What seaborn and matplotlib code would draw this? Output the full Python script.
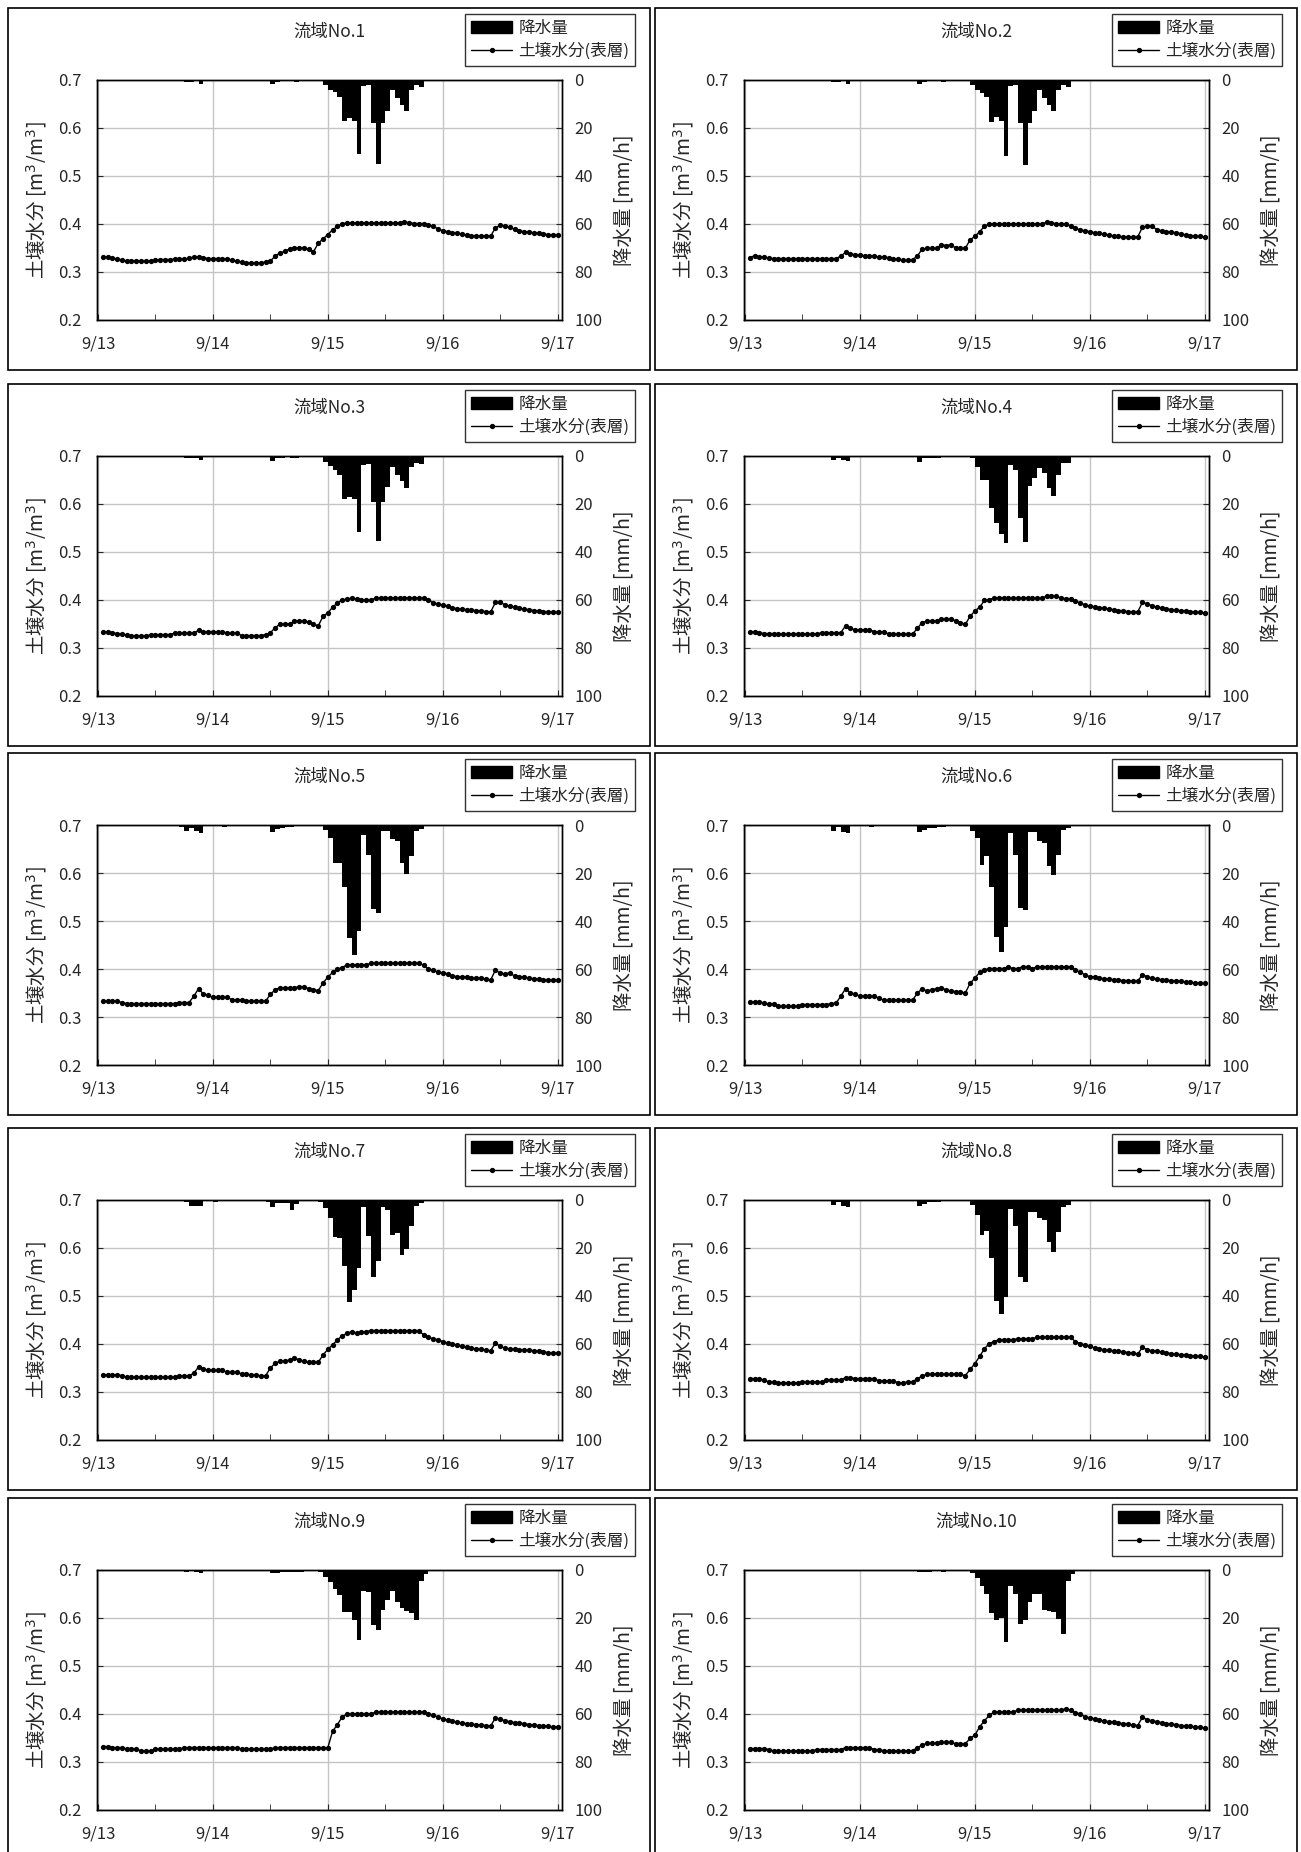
import numpy as np
import matplotlib
matplotlib.use('Agg')
import matplotlib.pyplot as plt
from matplotlib.patches import Rectangle, Patch
from matplotlib.lines import Line2D
import seaborn as sns

sns.set_style('white')
plt.rcParams['font.family'] = ['Noto Sans CJK JP', 'DejaVu Sans']
plt.rcParams['mathtext.fontset'] = 'dejavusans'

# ---- data (hourly, 9/13 01:00 .. 9/17 00:00) ----
titles = ['流域No.1', '流域No.2', '流域No.3', '流域No.4', '流域No.5',
          '流域No.6', '流域No.7', '流域No.8', '流域No.9', '流域No.10']
day_labels = ['9/13', '9/14', '9/15', '9/16', '9/17']
soil_hours = np.arange(1, 97)      # soil moisture sample times [h]
rain_hours = np.arange(0, 96)      # start of each hourly rain interval [h]

soil_1 = [0.331, 0.331, 0.329, 0.327, 0.324, 0.323, 0.323, 0.323, 0.323, 0.323, 0.323, 0.324, 0.326, 0.326, 0.326, 0.327, 0.327, 0.327, 0.329, 0.331, 0.331, 0.330, 0.328, 0.328,
          0.328, 0.328, 0.327, 0.324, 0.322, 0.321, 0.319, 0.319, 0.319, 0.319, 0.321, 0.323, 0.333, 0.340, 0.343, 0.348, 0.350, 0.350, 0.350, 0.347, 0.342, 0.360, 0.369, 0.378,
          0.388, 0.395, 0.401, 0.402, 0.402, 0.402, 0.402, 0.402, 0.402, 0.402, 0.402, 0.402, 0.402, 0.402, 0.402, 0.404, 0.403, 0.401, 0.401, 0.401, 0.398, 0.395, 0.390, 0.386,
          0.384, 0.382, 0.381, 0.379, 0.377, 0.376, 0.375, 0.375, 0.375, 0.375, 0.392, 0.397, 0.396, 0.393, 0.389, 0.386, 0.384, 0.383, 0.382, 0.381, 0.379, 0.378, 0.377, 0.377]
soil_2 = [0.330, 0.334, 0.332, 0.331, 0.329, 0.328, 0.328, 0.328, 0.328, 0.328, 0.328, 0.328, 0.328, 0.328, 0.328, 0.328, 0.328, 0.328, 0.328, 0.333, 0.341, 0.338, 0.336, 0.335,
          0.334, 0.333, 0.333, 0.331, 0.331, 0.330, 0.327, 0.327, 0.324, 0.324, 0.326, 0.333, 0.348, 0.349, 0.349, 0.349, 0.357, 0.355, 0.357, 0.350, 0.349, 0.349, 0.367, 0.374,
          0.384, 0.395, 0.400, 0.400, 0.400, 0.400, 0.400, 0.400, 0.400, 0.400, 0.400, 0.400, 0.400, 0.400, 0.404, 0.403, 0.400, 0.400, 0.400, 0.396, 0.391, 0.388, 0.386, 0.384,
          0.382, 0.381, 0.379, 0.377, 0.375, 0.374, 0.373, 0.373, 0.373, 0.373, 0.393, 0.396, 0.396, 0.388, 0.386, 0.384, 0.383, 0.382, 0.380, 0.377, 0.376, 0.375, 0.374, 0.373]
soil_3 = [0.334, 0.334, 0.332, 0.330, 0.329, 0.327, 0.325, 0.325, 0.325, 0.325, 0.328, 0.328, 0.328, 0.328, 0.328, 0.331, 0.331, 0.331, 0.331, 0.331, 0.337, 0.334, 0.334, 0.334,
          0.334, 0.334, 0.331, 0.331, 0.331, 0.326, 0.326, 0.326, 0.326, 0.326, 0.328, 0.332, 0.342, 0.350, 0.350, 0.350, 0.356, 0.356, 0.356, 0.354, 0.350, 0.346, 0.366, 0.373,
          0.385, 0.394, 0.400, 0.402, 0.404, 0.402, 0.400, 0.400, 0.400, 0.404, 0.404, 0.404, 0.404, 0.404, 0.404, 0.404, 0.404, 0.404, 0.404, 0.404, 0.401, 0.394, 0.392, 0.389,
          0.387, 0.384, 0.382, 0.381, 0.380, 0.379, 0.378, 0.377, 0.376, 0.375, 0.395, 0.395, 0.390, 0.387, 0.385, 0.383, 0.381, 0.380, 0.378, 0.377, 0.376, 0.375, 0.374, 0.374]
soil_4 = [0.334, 0.334, 0.332, 0.330, 0.330, 0.330, 0.329, 0.329, 0.329, 0.329, 0.329, 0.329, 0.329, 0.329, 0.329, 0.332, 0.332, 0.332, 0.332, 0.332, 0.346, 0.341, 0.338, 0.338,
          0.338, 0.338, 0.334, 0.334, 0.334, 0.329, 0.329, 0.329, 0.329, 0.329, 0.329, 0.341, 0.353, 0.356, 0.356, 0.356, 0.360, 0.360, 0.360, 0.357, 0.353, 0.349, 0.366, 0.377,
          0.385, 0.399, 0.401, 0.404, 0.404, 0.404, 0.404, 0.404, 0.404, 0.404, 0.404, 0.404, 0.404, 0.404, 0.408, 0.408, 0.408, 0.404, 0.403, 0.403, 0.397, 0.394, 0.390, 0.387,
          0.386, 0.384, 0.383, 0.381, 0.380, 0.378, 0.377, 0.376, 0.375, 0.375, 0.395, 0.392, 0.388, 0.385, 0.384, 0.382, 0.380, 0.379, 0.378, 0.377, 0.376, 0.375, 0.374, 0.373]
soil_5 = [0.333, 0.333, 0.333, 0.333, 0.330, 0.328, 0.328, 0.328, 0.328, 0.328, 0.328, 0.328, 0.328, 0.328, 0.328, 0.328, 0.330, 0.330, 0.330, 0.343, 0.359, 0.348, 0.345, 0.341,
          0.341, 0.341, 0.341, 0.336, 0.336, 0.336, 0.333, 0.333, 0.333, 0.333, 0.333, 0.347, 0.357, 0.361, 0.361, 0.361, 0.361, 0.363, 0.363, 0.359, 0.357, 0.355, 0.371, 0.383,
          0.393, 0.400, 0.403, 0.409, 0.409, 0.409, 0.409, 0.409, 0.412, 0.412, 0.412, 0.412, 0.412, 0.412, 0.412, 0.412, 0.412, 0.412, 0.412, 0.408, 0.400, 0.397, 0.394, 0.392,
          0.390, 0.386, 0.384, 0.384, 0.384, 0.381, 0.381, 0.381, 0.379, 0.377, 0.398, 0.391, 0.390, 0.392, 0.385, 0.384, 0.383, 0.381, 0.380, 0.379, 0.377, 0.377, 0.377, 0.377]
soil_6 = [0.331, 0.331, 0.331, 0.329, 0.327, 0.327, 0.322, 0.322, 0.322, 0.322, 0.322, 0.326, 0.326, 0.326, 0.326, 0.326, 0.326, 0.328, 0.329, 0.343, 0.359, 0.350, 0.348, 0.343,
          0.343, 0.343, 0.343, 0.339, 0.335, 0.335, 0.335, 0.335, 0.335, 0.335, 0.335, 0.350, 0.359, 0.354, 0.357, 0.359, 0.360, 0.357, 0.354, 0.353, 0.352, 0.350, 0.370, 0.381,
          0.393, 0.398, 0.401, 0.401, 0.401, 0.401, 0.404, 0.401, 0.401, 0.405, 0.405, 0.401, 0.405, 0.405, 0.405, 0.405, 0.405, 0.405, 0.405, 0.405, 0.398, 0.393, 0.388, 0.384,
          0.384, 0.381, 0.380, 0.379, 0.378, 0.377, 0.376, 0.376, 0.375, 0.375, 0.388, 0.384, 0.381, 0.379, 0.378, 0.377, 0.376, 0.375, 0.374, 0.373, 0.372, 0.371, 0.370, 0.370]
soil_7 = [0.336, 0.336, 0.336, 0.336, 0.334, 0.331, 0.331, 0.331, 0.331, 0.331, 0.331, 0.331, 0.331, 0.331, 0.331, 0.331, 0.334, 0.334, 0.334, 0.339, 0.352, 0.348, 0.345, 0.345,
          0.345, 0.345, 0.341, 0.341, 0.341, 0.338, 0.337, 0.336, 0.336, 0.333, 0.334, 0.350, 0.360, 0.364, 0.364, 0.367, 0.371, 0.367, 0.364, 0.362, 0.362, 0.362, 0.377, 0.389,
          0.398, 0.409, 0.417, 0.422, 0.426, 0.422, 0.425, 0.426, 0.428, 0.428, 0.428, 0.428, 0.428, 0.428, 0.428, 0.428, 0.428, 0.428, 0.428, 0.419, 0.414, 0.411, 0.409, 0.405,
          0.402, 0.400, 0.398, 0.395, 0.393, 0.391, 0.390, 0.389, 0.387, 0.386, 0.402, 0.395, 0.391, 0.390, 0.389, 0.388, 0.388, 0.387, 0.386, 0.386, 0.384, 0.382, 0.381, 0.381]
soil_8 = [0.328, 0.328, 0.328, 0.324, 0.321, 0.321, 0.319, 0.319, 0.319, 0.319, 0.319, 0.321, 0.321, 0.321, 0.321, 0.321, 0.325, 0.325, 0.325, 0.325, 0.330, 0.330, 0.328, 0.328,
          0.328, 0.328, 0.328, 0.323, 0.323, 0.323, 0.323, 0.319, 0.319, 0.321, 0.321, 0.328, 0.333, 0.337, 0.337, 0.337, 0.337, 0.337, 0.337, 0.337, 0.337, 0.334, 0.347, 0.359,
          0.374, 0.390, 0.401, 0.405, 0.409, 0.409, 0.409, 0.409, 0.411, 0.411, 0.411, 0.411, 0.414, 0.414, 0.414, 0.414, 0.414, 0.414, 0.414, 0.414, 0.405, 0.401, 0.398, 0.395,
          0.392, 0.390, 0.388, 0.387, 0.386, 0.385, 0.384, 0.382, 0.381, 0.379, 0.393, 0.388, 0.386, 0.385, 0.383, 0.382, 0.380, 0.379, 0.378, 0.377, 0.376, 0.375, 0.374, 0.373]
soil_9 = [0.332, 0.332, 0.330, 0.330, 0.330, 0.327, 0.327, 0.327, 0.323, 0.323, 0.323, 0.327, 0.327, 0.327, 0.327, 0.327, 0.327, 0.330, 0.330, 0.330, 0.330, 0.330, 0.330, 0.330,
          0.330, 0.330, 0.330, 0.330, 0.330, 0.327, 0.327, 0.327, 0.327, 0.327, 0.327, 0.327, 0.330, 0.330, 0.330, 0.330, 0.330, 0.330, 0.330, 0.330, 0.330, 0.330, 0.330, 0.330,
          0.364, 0.378, 0.394, 0.400, 0.400, 0.400, 0.400, 0.400, 0.400, 0.404, 0.404, 0.404, 0.404, 0.404, 0.404, 0.404, 0.404, 0.404, 0.404, 0.404, 0.401, 0.397, 0.394, 0.390,
          0.387, 0.385, 0.383, 0.381, 0.380, 0.379, 0.378, 0.377, 0.376, 0.375, 0.392, 0.389, 0.386, 0.384, 0.382, 0.381, 0.380, 0.378, 0.377, 0.376, 0.375, 0.374, 0.373, 0.373]
soil_10 = [0.328, 0.328, 0.328, 0.328, 0.326, 0.323, 0.323, 0.323, 0.323, 0.323, 0.323, 0.323, 0.323, 0.323, 0.326, 0.326, 0.326, 0.326, 0.326, 0.326, 0.330, 0.330, 0.330, 0.330,
           0.330, 0.330, 0.326, 0.326, 0.323, 0.323, 0.323, 0.323, 0.323, 0.323, 0.323, 0.330, 0.335, 0.339, 0.339, 0.339, 0.341, 0.341, 0.341, 0.338, 0.338, 0.338, 0.349, 0.356,
           0.373, 0.386, 0.397, 0.404, 0.404, 0.404, 0.404, 0.404, 0.408, 0.408, 0.408, 0.408, 0.408, 0.408, 0.408, 0.408, 0.408, 0.408, 0.411, 0.408, 0.403, 0.400, 0.394, 0.392,
           0.390, 0.387, 0.385, 0.384, 0.383, 0.381, 0.380, 0.379, 0.377, 0.376, 0.393, 0.388, 0.386, 0.384, 0.382, 0.380, 0.379, 0.378, 0.376, 0.375, 0.374, 0.373, 0.372, 0.371]

# hourly rainfall [mm/h], one value per hour 0..95
rain_1 = ([0] * 18 + [0.8, 0.8, 0.5, 1.5, 0, 0]
          + [0] * 12 + [1.5, 1.0, 0.5, 0.5, 0.5, 1.0, 0.3, 0.3, 0, 0, 0, 2]
          + [4, 5, 7, 17, 16, 17, 31, 2.5, 2, 18, 35, 18, 13, 4, 7.5, 10.5, 13, 4, 2, 3, 0, 0, 0, 0]
          + [0] * 24)
rain_2 = ([0] * 18 + [0.8, 0.8, 0.5, 1.5, 0, 0]
          + [0] * 12 + [1.5, 0.8, 0.5, 0.5, 0.3, 0.8, 0.3, 0.3, 0, 0, 0, 2]
          + [4, 5.5, 7, 17.5, 15.5, 17, 31.5, 2.5, 2, 18, 35.5, 18, 13, 4, 7.5, 10.5, 13, 4, 2, 3, 0, 0, 0, 0]
          + [0] * 24)
rain_3 = ([0] * 18 + [1.0, 1.0, 0.7, 1.7, 0, 0]
          + [0] * 12 + [2.0, 0.7, 0.7, 0.5, 0.7, 0.7, 0.3, 0.3, 0, 0, 0, 2.3]
          + [4, 5.8, 7.9, 18, 17, 18, 31.7, 3.7, 3.5, 19.3, 35.4, 19, 13, 4.7, 7.9, 10.6, 13.4, 4.7, 3, 3.3, 0, 0, 0, 0]
          + [0] * 24)
rain_4 = ([0] * 17 + [0.5, 1.5, 1.0, 1.5, 2.0, 0, 0]
          + [0, 0, 0.5] + [0] * 9 + [2.3, 1.0, 1.0, 0.8, 0.8, 0.5, 0.5, 0.5, 0, 0, 0, 1.0]
          + [4.7, 10, 10, 21.6, 27.9, 32.7, 36.4, 3.7, 6, 25.8, 36, 12.7, 9.2, 5, 7, 13.4, 16.8, 7.9, 3, 3, 0, 0, 0, 0]
          + [0] * 24)
rain_5 = ([0] * 17 + [0.8, 2.5, 1.4, 2.5, 3.4, 0, 0]
          + [0, 0, 0.8] + [0] * 9 + [2.8, 1.5, 1.2, 1.0, 0.8, 0.6, 0.5, 0.4, 0, 0, 0, 2.2]
          + [5.5, 16, 16, 26, 47, 54, 44, 4, 12.5, 35, 36.5, 2.5, 2.5, 6, 6.5, 16, 20.5, 13, 2.5, 1.5, 0, 0, 0, 0]
          + [0] * 24)
rain_6 = ([0] * 17 + [0.4, 2.4, 1.0, 3.0, 3.5, 0, 0]
          + [0, 0, 0.7] + [0] * 9 + [3.0, 2.0, 1.4, 1.2, 1.0, 0.8, 0.6, 0.5, 0, 0, 0, 2.4]
          + [5.5, 16.7, 13, 26, 46.5, 52.8, 42.4, 3.5, 12.5, 34.7, 35.4, 2.8, 2.8, 6.5, 7.4, 17, 20.8, 12.5, 2, 1.4, 0, 0, 0, 0]
          + [0] * 24)
rain_7 = ([0] * 18 + [1.0, 2.3, 2.3, 2.3, 0, 0]
          + [1.0] + [0] * 10 + [1.0, 2.8, 1.4, 1.4, 1.4, 4.2, 1.7, 0.5, 0.5, 0.5, 0.5, 1.0, 3.5]
          + [7.5, 15.5, 15.8, 27.4, 42.6, 37.5, 28.5, 3, 15, 32, 25.6, 3, 4, 14.6, 13.9, 22.8, 20.4, 11, 2.3, 1.4, 0, 0, 0, 0]
          + [0] * 24)
rain_8 = ([0] * 17 + [0.4, 2.0, 1.0, 2.5, 3.0, 0, 0]
          + [0, 0, 0.6] + [0] * 9 + [2.5, 1.5, 1.0, 1.0, 0.8, 0.6, 0.5, 0.5, 0, 0, 0.4, 2.0]
          + [6.2, 14.6, 13, 24.3, 42, 47.6, 40.3, 3.7, 11, 32, 34, 4.9, 5, 7.6, 8.3, 17.4, 21.5, 13.2, 2.8, 2, 0, 0, 0, 0]
          + [0] * 24)
rain_9 = ([0] * 18 + [0.7, 0.4, 0.7, 1.4, 0, 0]
          + [0] * 12 + [1.4, 1.4, 0.7, 0.7, 0.7, 0.7, 0.7, 0.5, 0, 0, 1.0, 3.0]
          + [5, 7.9, 10.6, 17.5, 17.5, 21, 29, 8.8, 9.2, 23, 25, 16.8, 12.7, 8.6, 13.4, 16, 17, 18, 21, 4.7, 1.5, 0.5, 0, 0]
          + [0] * 24)
rain_10 = ([0] * 18 + [0.5, 0, 0.5, 0.5, 0, 0]
           + [0] * 12 + [0.7, 0.7, 0.7, 0, 0, 0.7, 0, 0, 0, 0, 0, 1.4]
           + [3.3, 6.5, 10, 18, 20.7, 19.9, 30, 6.5, 10, 22.6, 20.7, 13.4, 10, 10, 16.6, 17, 17.5, 20.3, 26.5, 4.7, 1.7, 0.3, 0, 0]
           + [0] * 24)

soil_all = [soil_1, soil_2, soil_3, soil_4, soil_5, soil_6, soil_7, soil_8, soil_9, soil_10]
rain_all = [rain_1, rain_2, rain_3, rain_4, rain_5, rain_6, rain_7, rain_8, rain_9, rain_10]

# ---- layout (pixels) ----
W, H = 1301, 1852
fig = plt.figure(figsize=(W / 100, H / 100), dpi=100)
box_x = [8, 655]
box_y = [8, 384, 753, 1128, 1498]
box_w, box_h = 642, 362
ax_dx, ax_dy, ax_w, ax_h = 89, 72, 465, 240

grid_c = '#c4c4c4'
tick_fs = 12

for i in range(10):
    r, c = divmod(i, 2)
    bx, by = box_x[c], box_y[r]
    fig.add_artist(Rectangle((bx / W, 1 - (by + box_h) / H), box_w / W, box_h / H,
                             transform=fig.transFigure, fill=False, ec='black', lw=1.2))
    ax = fig.add_axes([(bx + ax_dx) / W, 1 - (by + ax_dy + ax_h) / H, ax_w / W, ax_h / H])

    # soil moisture
    sns.lineplot(x=soil_hours, y=soil_all[i], ax=ax, color='black', lw=1,
                 marker='o', markersize=3.8, markeredgewidth=0, legend=False)
    ax.set_ylim(0.2, 0.7)
    ax.set_yticks([0.2, 0.3, 0.4, 0.5, 0.6, 0.7])
    ax.set_yticklabels(['%.1f' % v for v in [0.2, 0.3, 0.4, 0.5, 0.6, 0.7]])
    ax.set_xlim(-0.2, 96.9)
    ax.set_xticks([0, 24, 48, 72, 96])
    ax.set_xticklabels(day_labels)
    ax.set_xticks([12, 36, 60, 84], minor=True)
    ax.grid(True, which='major', color=grid_c, lw=1)
    ax.set_axisbelow(True)
    ax.tick_params(axis='x', which='both', direction='in', length=4, pad=11,
                   labelsize=tick_fs, bottom=True)
    ax.tick_params(axis='y', direction='in', length=4, pad=11, labelsize=tick_fs, left=True)
    ax.set_xlabel('')
    ax.set_ylabel('土壌水分 [m$^3$/m$^3$]', fontsize=14)
    ax.yaxis.set_label_coords(-0.104, 0.5)
    for s in ax.spines.values():
        s.set_color('black')
        s.set_linewidth(1)

    # rainfall (inverted, right axis)
    ax2 = ax.twinx()
    ax2.bar(rain_hours, rain_all[i], width=1, align='edge', color='black', lw=0)
    ax2.set_ylim(100, 0)
    ax2.set_yticks([0, 20, 40, 60, 80, 100])
    ax2.tick_params(axis='y', direction='in', length=4, pad=9, labelsize=tick_fs, right=True)
    ax2.set_ylabel('降水量 [mm/h]', fontsize=14)
    ax2.yaxis.set_label_coords(1.112, 0.5)
    ax2.grid(False)
    for s in ax2.spines.values():
        s.set_color('black')
        s.set_linewidth(1)

    ax.text(0.5, 1.2, titles[i], transform=ax.transAxes, ha='center', va='center',
            fontsize=12.5)

    handles = [Patch(facecolor='black', edgecolor='black'),
               Line2D([], [], color='black', lw=1, marker='o', markersize=3.8,
                      markeredgewidth=0)]
    leg = ax.legend(handles, ['降水量', '土壌水分(表層)'], loc='upper right',
                    bbox_to_anchor=(1.157, 1.275), bbox_transform=ax.transAxes,
                    frameon=True, fancybox=False, edgecolor='black', fontsize=12,
                    handlelength=2.5, handleheight=0.7, borderpad=0.35,
                    labelspacing=0.35, handletextpad=0.35, borderaxespad=0)
    leg.get_frame().set_linewidth(1)

fig.savefig('out.png', dpi=100)
